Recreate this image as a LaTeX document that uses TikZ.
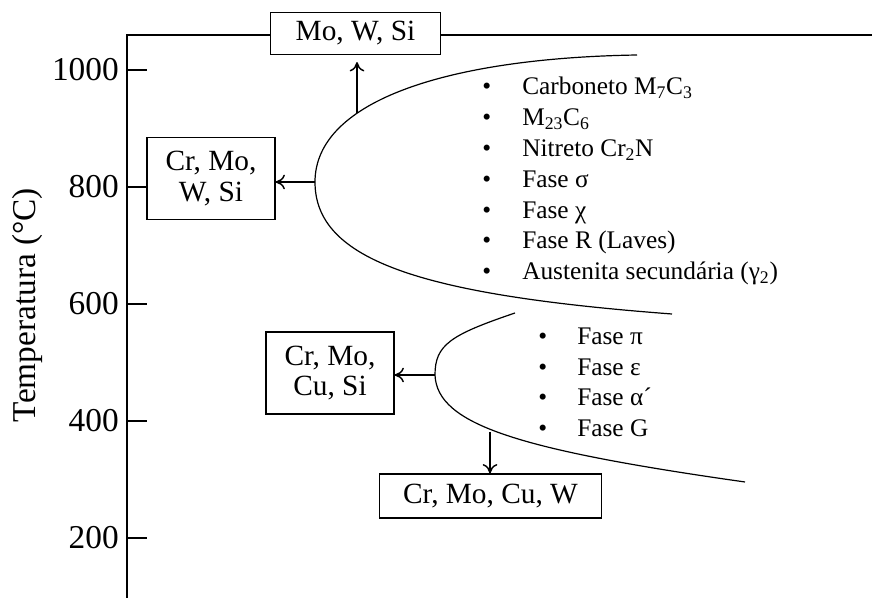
\documentclass[tikz,border=0pt]{standalone}
\usepackage{fontspec}
\setmainfont{Liberation Serif}
\usetikzlibrary{positioning,arrows.meta}

\newcommand{\tickfont}{\fontsize{25}{30}\selectfont}
\newcommand{\boxfont}{\fontsize{22}{23}\selectfont}
\newcommand{\listfont}{\fontsize{19}{23}\selectfont}

\begin{document}
\begin{tikzpicture}[x=0.75pt,y=-0.75pt,elbox/.style={draw,rectangle,fill=white,line width=0.9pt,align=center,inner sep=0pt,font=\boxfont},curve/.style={draw,line width=0.9pt},arrow/.style={draw=black,-{To[length=7pt,width=11pt]},line width=1.1pt},item/.style={anchor=base west,inner sep=0pt,font=\listfont}]
  \useasboundingbox (0,0) rectangle (872,598);

  % axes
  \draw[line width=1pt] (127,598) -- (127,35) -- (872,35);
  \foreach \t [count=\i from 0] in {1000,800,600,400,200} {
    \draw[line width=1pt] (127,70+117*\i) -- (147,70+117*\i);
    \node[anchor=east,inner sep=0pt,font=\tickfont] (tick\t) at (119,70+117*\i) {\t};
  }
  \node[rotate=90,inner sep=0pt,font=\tickfont] (ylabel) at (27,305) {Temperatura (°C)};

  % element boxes
  \node[elbox,minimum width=128pt,minimum height=32pt] (mows) at (355.5,33.5) {Mo, W, Si};
  \node[elbox,minimum width=96pt,minimum height=61pt] (crmows) at (211,178.5) {Cr, Mo,\\W, Si};
  \node[elbox,minimum width=96pt,minimum height=61.5pt] (crmocusi) at (330,373) {Cr, Mo,\\Cu, Si};
  \node[elbox,minimum width=166.5pt,minimum height=33pt] (crmocuw) at (490.5,496) {Cr, Mo, Cu, W};

  % precipitation curves
  \coordinate (nose_hi) at (315,182);
  \coordinate (top_hi) at (357,113);
  \coordinate (nose_lo) at (435,375);
  \coordinate (bot_lo) at (490,432);

  \draw[curve] (637,55) .. controls (450,58) and (315,100) .. (nose_hi) .. controls (315,260) and (420,295) .. (672,314);
  \draw[curve] (515,313) .. controls (450,335) and (435,345) .. (nose_lo) .. controls (437,425) and (520,450) .. (745,482);

  \draw[arrow] (nose_hi) -- (nose_hi -| crmows.east);
  \draw[arrow] (top_hi) -- ([yshift=-5pt]top_hi |- mows.south);
  \draw[arrow] (nose_lo) -- (nose_lo -| crmocusi.east);
  \draw[arrow] (bot_lo) -- (bot_lo |- crmocuw.north);

  % phases
  \foreach \ph [count=\i from 0] in {{Carboneto M\textsubscript{7}C\textsubscript{3}},{M\textsubscript{23}C\textsubscript{6}},{Nitreto Cr\textsubscript{2}N},{Fase σ},{Fase χ},{Fase R (Laves)},{Austenita secundária (γ\textsubscript{2})}} {
    \node[item] (dot_hi\i) at (482,95+30.8*\i) {•};
    \node[item] (phase_hi\i) at (522,95+30.8*\i) {\ph};
  }
  \foreach \ph [count=\i from 0] in {{Fase π},{Fase ε},{Fase α´},{Fase G}} {
    \node[item] (dot_lo\i) at (538,345+30.5*\i) {•};
    \node[item] (phase_lo\i) at (577,345+30.5*\i) {\ph};
  }
\end{tikzpicture}
\end{document}
